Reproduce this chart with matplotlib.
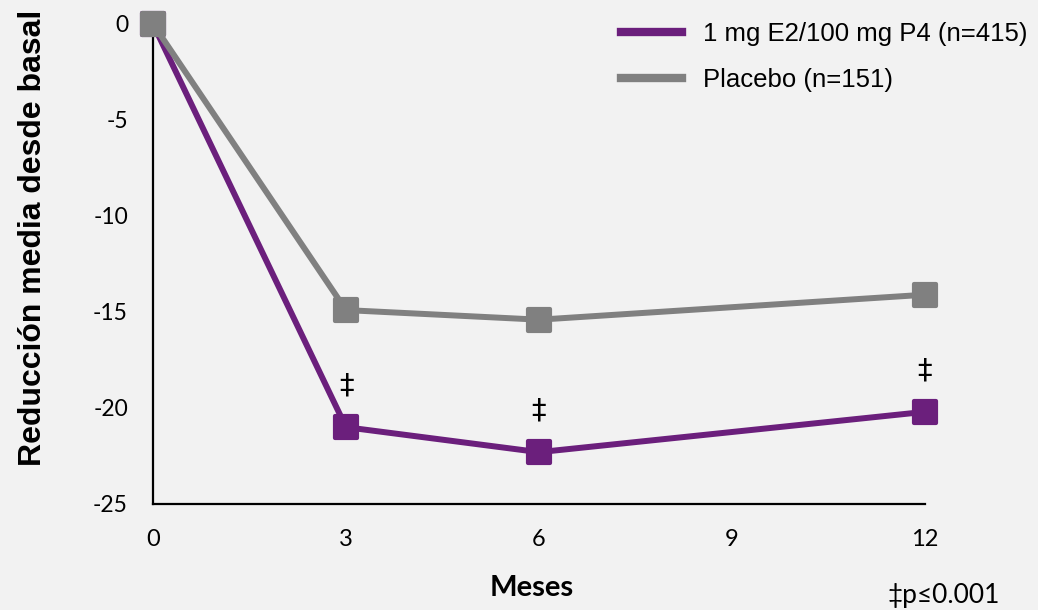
import matplotlib
matplotlib.use("Agg")
import matplotlib.pyplot as plt
from matplotlib.markers import MarkerStyle

plt.rcParams["axes.unicode_minus"] = False

# ======================
# DATA
# ======================
meses = [0, 3, 6, 12]
e2_p4 = [0, -21.0, -22.3, -20.2]
placebo = [0, -14.9, -15.4, -14.1]
sig_meses = [3, 6, 12]          # points marked with ‡
x_ticks = [0, 3, 6, 9, 12]
y_ticks = [0, -5, -10, -15, -20, -25]

label_e2 = "1 mg E2/100 mg P4 (n=415)"
label_pl = "Placebo (n=151)"

purple = "#6b1f7c"
grey = "#808080"
bg = "#f2f2f2"

# ======================
# FIGURE
# ======================
fig = plt.figure(figsize=(10.38, 6.10), dpi=100, facecolor=bg)
ax = fig.add_axes([153 / 1038, 106 / 610, 772 / 1038, 480 / 610])
ax.set_facecolor(bg)

# square markers with slightly rounded corners
sq = MarkerStyle("s", joinstyle="round")

ax.plot(meses, e2_p4, color=purple, lw=4.3, marker=sq, ms=16.5, mew=3,
        mec=purple, mfc=purple, label=label_e2, clip_on=False, zorder=3)
ax.plot(meses, placebo, color=grey, lw=4.3, marker=sq, ms=16.5, mew=3,
        mec=grey, mfc=grey, label=label_pl, clip_on=False, zorder=4)

# significance marks above the active arm
for m in sig_meses:
    y = e2_p4[meses.index(m)]
    ax.annotate("‡", (m, y), xytext=(0, 20), textcoords="offset points",
                ha="center", va="bottom", fontsize=21, family="DejaVu Sans")

ax.set_xlim(0, 12)
ax.set_ylim(-25, 0)
ax.set_xticks(x_ticks)
ax.set_yticks(y_ticks)
ax.tick_params(length=0)
ax.tick_params(axis="y", pad=18, labelsize=16.5)
ax.tick_params(axis="x", pad=18, labelsize=17)
for lab in ax.get_xticklabels() + ax.get_yticklabels():
    lab.set_family("Lato")

for s in ["top", "right"]:
    ax.spines[s].set_visible(False)
for s in ["left", "bottom"]:
    ax.spines[s].set_linewidth(1.6)
    ax.spines[s].set_color("black")

fig.text(18 / 1038, 1 - 238 / 610, "Reducción media desde basal", rotation=90,
         ha="left", va="center", fontsize=23, fontweight="bold",
         family="Liberation Sans")
fig.text(532 / 1038, 1 - 588 / 610, "Meses", ha="center", va="center",
         fontsize=21, fontweight="bold", family="Lato")
fig.text(1000 / 1038, 1 - 596 / 610, "‡p≤0.001", ha="right", va="center",
         fontsize=19, family=["Lato", "DejaVu Sans"])

leg = ax.legend(loc="upper left", bbox_to_anchor=(598 / 1038, 1 + 1 / 610),
                bbox_transform=fig.transFigure, frameon=False,
                prop={"family": "Liberation Sans", "size": 18.5},
                handlelength=2.35, handletextpad=0.85, labelspacing=0.85)
for h in leg.get_lines():
    h.set_marker("")
    h.set_linewidth(6)

fig.savefig("out.png", dpi=100, facecolor=bg)
